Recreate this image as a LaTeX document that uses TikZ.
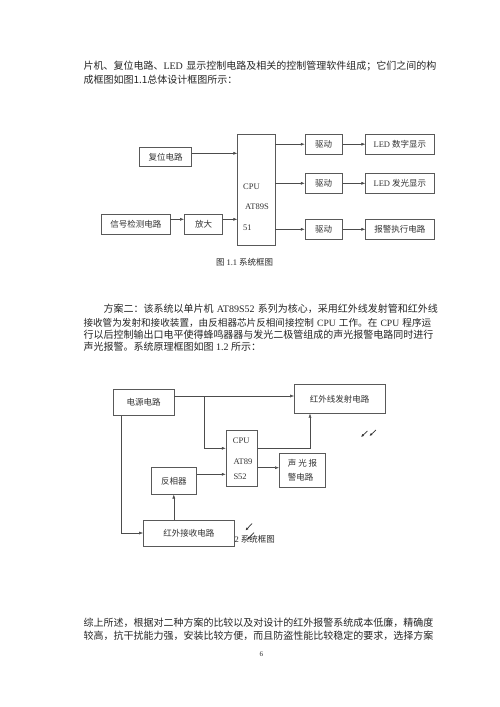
\documentclass[tikz,border=0pt]{standalone}
\usepackage{fontspec}
\setmainfont{Noto Sans CJK SC}
\newfontfamily\latfont{Liberation Serif}
\newcommand{\lat}[1]{{\latfont #1}}
\XeTeXlinebreaklocale "zh"
\XeTeXlinebreakskip=0pt plus 1pt minus 0.6pt
\usetikzlibrary{arrows.meta}
\newcommand{\fl}{\parfillskip=0pt\tolerance=9999\relax}
\tikzset{%
  arrow/.style = { -{Latex[length=4pt,width=3pt]}, line width = 0.5pt, draw = black!70 },
  tbox/.style 2 args = { draw = black!65, line width = 0.5pt, fill = white, inner sep = 0pt,
                         minimum width = #1pt, minimum height = #2pt, text = black!80,
                         font = \fontsize{8.5}{14}\selectfont, align = left },
  lbl/.style  = { anchor = west, inner sep = 0pt, text = black!80, font = \latfont\fontsize{8.5}{10}\selectfont },
  body/.style = { anchor = west, inner sep = 0pt, text = black!85, font = \fontsize{10}{12}\selectfont },
  full/.style = { body, text width = #1pt },
  stray/.style = { -{Latex[length=3pt,width=2.6pt]}, line width = 0.7pt, draw = black!80 }
}

\begin{document}
\begin{tikzpicture}[x=1pt,y=-1pt]
  \fill[white] (0,0) rectangle (500,707);
  \useasboundingbox (0,0) rectangle (500,707);

  \node[full=358.4] (p1a) at (83.3,65.7) {\fl 片机、复位电路、\lat{LED }显示控制电路及相关的控制管理软件组成；它们之间的构};
  \node[body] (p1b) at (83.3,80) {成框图如图1.1总体设计框图所示：};

  \node[tbox={52.4}{19.4}] (reset) at (165.5,157) {复位电路};
  \node[tbox={68.3}{20}] (sense) at (135.8,224) {信号检测电路};
  \node[tbox={38.4}{20}] (amp) at (203.5,224) {放大};
  \node[tbox={37.3}{111.4}] (cpu) at (256.3,190) {};
  \node[lbl] (cpua) at (243,186.7) {CPU};
  \node[lbl] (cpub) at (245,207) {AT89S};
  \node[lbl] (cpuc) at (243,228) {51};
  \node[tbox={37.3}{19.7}] (drv1) at (323.7,144.2) {驱动};
  \node[tbox={37.3}{19.7}] (drv2) at (323.7,183.3) {驱动};
  \node[tbox={37.3}{19.7}] (drv3) at (323.7,229.3) {驱动};
  \node[tbox={68.3}{19.7}] (disp) at (399.8,144.2) {\lat{LED} 数字显示};
  \node[tbox={68.3}{19.7}] (led) at (399.8,183.3) {\lat{LED} 发光显示};
  \node[tbox={68.3}{19.7}] (alarm) at (399.8,229.3) {报警执行电路};
  \draw[arrow] ([yshift=3.7pt]reset.east) -- ([yshift=3.7pt]reset.east -| cpu.west);
  \draw[arrow] ([yshift=4.7pt]sense.east) -- ([yshift=4.7pt]sense.east -| amp.west);
  \draw[arrow] ([yshift=4.7pt]amp.east) -- ([yshift=4.7pt]amp.east -| cpu.west);
  \draw[arrow] (cpu.east |- drv1.west) -- (drv1.west);
  \draw[arrow] (cpu.east |- drv2.west) -- (drv2.west);
  \draw[arrow] (cpu.east |- drv3.west) -- (drv3.west);
  \draw[arrow] (drv1) -- (disp);
  \draw[arrow] (drv2) -- (led);
  \draw[arrow] (drv3) -- (alarm);
  \node[body, font=\fontsize{8.5}{10}\selectfont] (cap1) at (216,262.7) {图 \lat{1.1} 系统框图};

  \node[full=338.4] (p2a) at (103.3,309.3) {\fl 方案二：该系统以单片机\lat{ AT89S52 }系列为核心，采用红外线发射管和红外线};
  \node[full=358.4, font=\fontsize{9.6}{12}\selectfont] (p2b) at (83.3,322.7) {\fl 接收管为发射和接收装置，由反相器芯片反相间接控制\lat{ CPU }工作。在\lat{ CPU }程序运};
  \node[full=358.4] (p2c) at (83.3,335) {\fl 行以后控制输出口电平使得蜂鸣器器与发光二极管组成的声光报警电路同时进行};
  \node[body] (p2d) at (83.3,346.7) {声光报警。系统原理框图如图\lat{ 1.2 }所示：};

  \node[body, font=\fontsize{8.5}{10}\selectfont] (cap2) at (234.5,539.5) {\lat{2} 系统框图};
  \node[tbox={60.7}{26}] (power) at (143.7,402.3) {电源电路};
  \node[tbox={90.7}{29}] (irtx) at (339.7,398.8) {红外线发射电路};
  \node[tbox={31.3}{56}] (mcu) at (241.7,458) {};
  \node[lbl] (mcua) at (232.7,441) {CPU};
  \node[lbl] (mcub) at (233.3,461.7) {AT89};
  \node[lbl] (mcuc) at (233.3,476.7) {S52};
  \node[tbox={46.4}{34.4}] (sound) at (302.5,470.5) {声 光 报\\警电路};
  \node[tbox={45.7}{27}] (inv) at (173.8,480.8) {反相器};
  \node[tbox={91}{26}] (irrx) at (188.8,533) {红外接收电路};
  \coordinate (fork) at (204.3,396);
  \draw[arrow] ([yshift=6.3pt]power.east) -- ([yshift=6.3pt]power.east -| irtx.west);
  \draw[arrow] (fork) |- ([yshift=9.7pt]mcu.west);
  \draw[arrow] ([xshift=-22pt]power.south) |- (irrx.west);
  \draw[arrow] (irrx.north -| inv.south) -- (inv.south);
  \draw[arrow] ([yshift=6.5pt]inv.east) -- ([yshift=6.5pt]inv.east -| mcu.west);
  \draw[arrow] ([yshift=9.7pt]mcu.east) -| ([xshift=-29.7pt]irtx.south);
  \draw[arrow] ([yshift=-9.7pt]mcu.east) -- ([yshift=-9.7pt]mcu.east -| sound.west);

  \coordinate (s1) at (367.5,431); \coordinate (t1) at (361,437);
  \coordinate (s2) at (376,430);   \coordinate (t2) at (369.5,436);
  \coordinate (s3) at (252,523.5); \coordinate (t3) at (245.5,530.5);
  \coordinate (s4) at (254,532.5); \coordinate (t4) at (247,539.5);
  \draw[stray] (s1) -- (t1);
  \draw[stray] (s2) -- (t2);
  \draw[stray] (s3) -- (t3);
  \draw[stray] (s4) -- (t4);

  \node[full=358.4] (p3a) at (83.3,622.7) {\fl 综上所述，根据对二种方案的比较以及对设计的红外报警系统成本低廉，精确度};
  \node[full=358.4] (p3b) at (83.3,636) {\fl 较高，抗干扰能力强，安装比较方便，而且防盗性能比较稳定的要求，选择方案};
  \node[body, font=\latfont\fontsize{7}{8}\selectfont] (page) at (259.5,654) {6};
\end{tikzpicture}
\end{document}
